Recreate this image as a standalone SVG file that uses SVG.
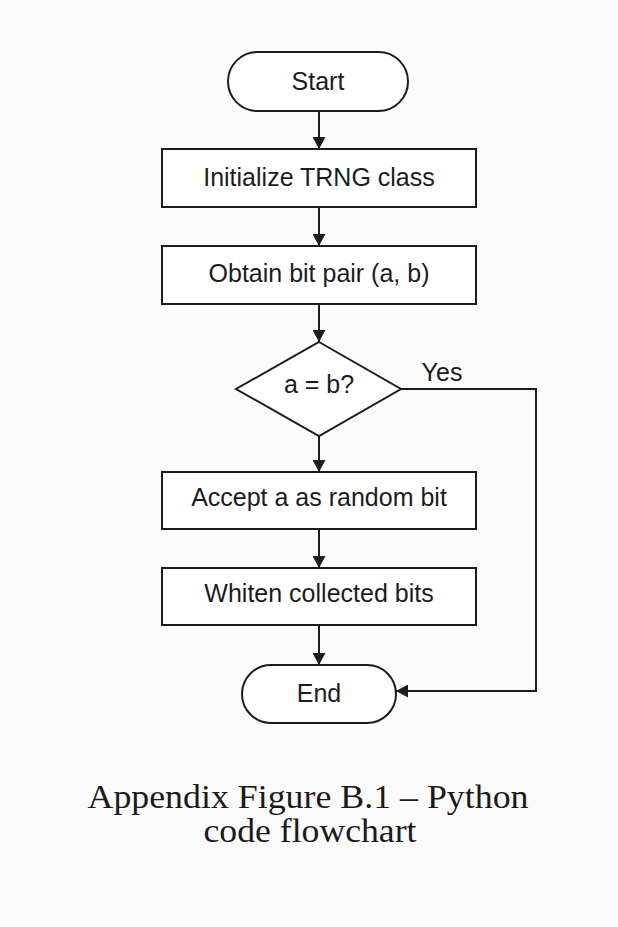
<svg xmlns="http://www.w3.org/2000/svg" width="618" height="927" viewBox="0 0 618 927">
  <defs>
    <marker id="arrow" viewBox="0 0 12 13" refX="12" refY="6.5" markerWidth="12" markerHeight="13" markerUnits="userSpaceOnUse" orient="auto">
      <path d="M0,0 L12,6.5 L0,13 Z" fill="#1c1c1c"/>
    </marker>
    <style>
      .shape { fill: #ffffff; stroke: #1c1c1c; stroke-width: 2; }
      .label { font-family: "Liberation Sans", Arial, sans-serif; font-size: 25px; fill: #1c1c1c; text-anchor: middle; }
      .edge { fill: none; stroke: #1c1c1c; stroke-width: 2; marker-end: url(#arrow); }
      .caption { font-family: "Liberation Serif", "Times New Roman", serif; font-size: 34px; fill: #1a1a1a; text-anchor: middle; }
    </style>
  </defs>

  <rect width="618" height="927" fill="#fbfbfb"/>

  <!-- connectors -->
  <g id="connectors">
    <line class="edge" x1="319" y1="111" x2="319" y2="149"/>
    <line class="edge" x1="319" y1="207" x2="319" y2="246"/>
    <line class="edge" x1="319" y1="304" x2="319" y2="342"/>
    <line class="edge" x1="319" y1="436" x2="319" y2="472"/>
    <line class="edge" x1="319" y1="529" x2="319" y2="568"/>
    <line class="edge" x1="319" y1="625" x2="319" y2="665"/>
    <polyline class="edge" points="401,389 536,389 536,691 396,691"/>
    <text class="label" x="442" y="381">Yes</text>
  </g>

  <!-- nodes -->
  <g id="start">
    <rect class="shape" x="228" y="52" width="180" height="59" rx="29.5" ry="29.5"/>
    <text class="label" x="318" y="90">Start</text>
  </g>

  <g id="init">
    <rect class="shape" x="162" y="149" width="314" height="58"/>
    <text class="label" x="319" y="186">Initialize TRNG class</text>
  </g>

  <g id="obtain">
    <rect class="shape" x="162" y="246" width="314" height="58"/>
    <text class="label" x="319" y="282">Obtain bit pair (a, b)</text>
  </g>

  <g id="decision">
    <polygon class="shape" points="319,342 401,389 319,436 236,389"/>
    <text class="label" x="319" y="393">a = b?</text>
  </g>

  <g id="accept">
    <rect class="shape" x="162" y="472" width="314" height="57"/>
    <text class="label" x="319" y="506">Accept a as random bit</text>
  </g>

  <g id="whiten">
    <rect class="shape" x="162" y="568" width="314" height="57"/>
    <text class="label" x="319" y="602">Whiten collected bits</text>
  </g>

  <g id="end">
    <rect class="shape" x="242" y="665" width="154" height="58" rx="29" ry="29"/>
    <text class="label" x="319" y="702">End</text>
  </g>

  <!-- caption -->
  <g id="caption">
    <text class="caption" x="308" y="808" textLength="441" lengthAdjust="spacingAndGlyphs">Appendix Figure B.1 – Python</text>
    <text class="caption" x="310" y="842" textLength="213" lengthAdjust="spacingAndGlyphs">code flowchart</text>
  </g>
</svg>
